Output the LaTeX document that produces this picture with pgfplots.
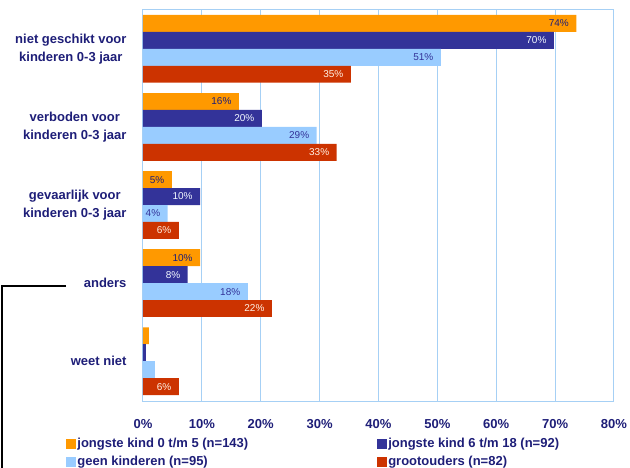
\documentclass[border=0pt]{standalone}
\usepackage{pgfplots}
\pgfplotsset{compat=1.18}
\usepackage{fontspec}
\setmainfont{Liberation Sans}
\definecolor{cOrange}{HTML}{FF9900}
\definecolor{cDark}{HTML}{333399}
\definecolor{cLight}{HTML}{99CCFF}
\definecolor{cRed}{HTML}{CC3300}
\definecolor{cNavy}{RGB}{30,30,120}
\definecolor{cGrid}{HTML}{A6D0F5}
\begin{document}
\begin{tikzpicture}
\useasboundingbox (0pt,0pt) rectangle (630pt,-467pt);
% stray connector line at the left
\draw[black, line width=1.3pt] (66pt,-286pt) -- (2pt,-286pt) -- (2pt,-470pt);
\begin{axis}[
    at={(143pt,-9pt)}, anchor=north west,
    scale only axis, width=471pt, height=392pt,
    xbar, bar width=0.217,
    xmin=0, xmax=80, ymin=-0.51, ymax=4.51,
    y dir=reverse,
    axis line style={draw=cGrid, line width=1pt},
    xmajorgrids, major grid style={draw=cGrid, line width=1pt},
    major tick length=0pt,
    xtick={0,10,...,80},
    xticklabel={\pgfmathprintnumber{\tick}\%},
    /pgf/number format/assume math mode=true,
    xticklabel style={font=\fontsize{13}{15}\selectfont\bfseries, text=cNavy, yshift=-15pt},
    ytick={0,...,4},
    yticklabels={{niet geschikt voor\\kinderen 0-3 jaar},{verboden voor\\kinderen 0-3 jaar},{gevaarlijk voor\\kinderen 0-3 jaar},anders,weet niet},
    yticklabel style={align=center, font=\fontsize{13}{18}\selectfont\bfseries, text=cNavy, xshift=-13pt},
    point meta=explicit symbolic,
    nodes near coords,
    every node near coord/.append style={anchor=east, xshift=-4pt, font=\fontsize{10}{12}\selectfont},
    legend columns=2,
    legend image code/.code={\fill[#1] (0pt,-5pt) rectangle (10pt,5pt);},
    legend style={at={(axis description cs:-0.163,-0.092)}, anchor=north west,
        draw=none, fill=none, inner sep=0pt, row sep=5pt,
        font=\fontsize{13}{15}\selectfont\bfseries, text=cNavy,
        nodes={inner sep=1pt, anchor=west},
        /tikz/every even column/.append style={column sep=128pt}},
]
\addplot[fill=cOrange, draw=none, bar shift=-0.3255,
    every node near coord/.append style={text=cNavy}]
    coordinates {(73.6,0) [74\%] (16.3,1) [16\%] (4.9,2) [5\%] (9.7,3) [10\%] (1.0,4) []};
\addlegendentry{jongste kind 0 t/m 5 (n=143)}
\addplot[fill=cDark, draw=none, bar shift=-0.1085,
    every node near coord/.append style={text=white!88!cLight}]
    coordinates {(69.8,0) [70\%] (20.2,1) [20\%] (9.7,2) [10\%] (7.6,3) [8\%] (0.5,4) []};
\addlegendentry{jongste kind 6 t/m 18 (n=92)}
\addplot[fill=cLight, draw=none, bar shift=0.1085,
    every node near coord/.append style={text=cDark}]
    coordinates {(50.6,0) [51\%] (29.5,1) [29\%] (4.2,2) [4\%] (17.8,3) [18\%] (2.0,4) []};
\addlegendentry{geen kinderen (n=95)}
\addplot[fill=cRed, draw=none, bar shift=0.3255,
    every node near coord/.append style={text=white!90!orange}]
    coordinates {(35.3,0) [35\%] (32.9,1) [33\%] (6.1,2) [6\%] (21.9,3) [22\%] (6.1,4) [6\%]};
\addlegendentry{grootouders (n=82)}
\end{axis}
\end{tikzpicture}
\end{document}
